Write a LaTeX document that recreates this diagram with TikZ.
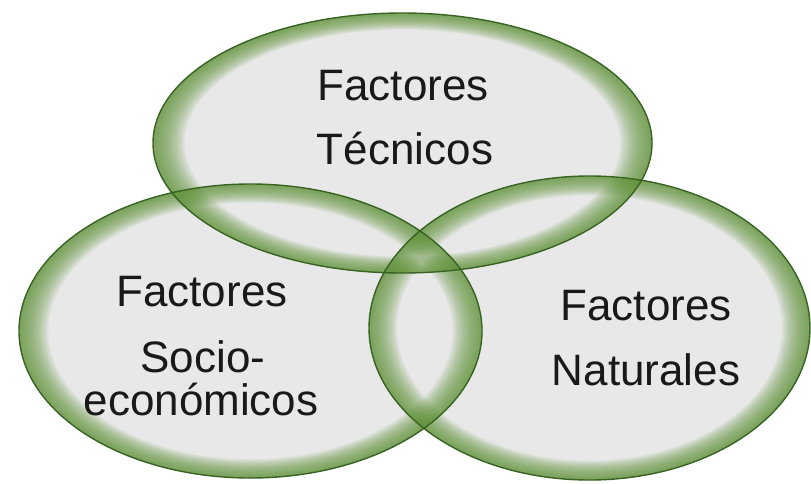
\documentclass[tikz,border=0pt]{standalone}
\usepackage{fontspec}
\setmainfont{Liberation Sans}
\definecolor{edgegreen}{RGB}{55,100,35}
\definecolor{glowgreen}{RGB}{100,150,60}
\definecolor{fillgray}{RGB}{232,232,232}
\definecolor{txt}{RGB}{25,25,25}
\tikzset{
  lbl/.style={anchor=base, inner sep=0pt, text=txt, font=\fontsize{44}{52}\selectfont},
  vedge/.style={draw=edgegreen, line width=1.4pt}
}
\begin{document}
\begin{tikzpicture}[x=1pt,y=-1pt]
\useasboundingbox[fill=white] (0,0) rectangle (811,483);
% gray fills
\foreach \cx/\cy/\rx/\ry in {402.5/143/249.5/130, 250.5/331/231.5/147, 589.5/328/220.5/152}{
  \fill[fillgray] (\cx,\cy) ellipse [x radius=\rx pt, y radius=\ry pt];
}
% inner green glow
\foreach \cx/\cy/\rx/\ry in {402.5/143/249.5/130, 250.5/331/231.5/147, 589.5/328/220.5/152}{
  \foreach \k in {1,...,22}{
    \pgfmathsetmacro\a{(1-0.0058*\k)*\rx}
    \pgfmathsetmacro\b{(1-0.0058*\k)*\ry}
    \fill[glowgreen, opacity=0.065, even odd rule]
      (\cx,\cy) ellipse [x radius=\rx pt, y radius=\ry pt]
      (\cx,\cy) ellipse [x radius=\a pt, y radius=\b pt];
  }
}
% outlines
\foreach \cx/\cy/\rx/\ry in {402.5/143/249.5/130, 250.5/331/231.5/147, 589.5/328/220.5/152}{
  \draw[vedge] (\cx,\cy) ellipse [x radius=\rx pt, y radius=\ry pt];
}
% labels
\node[lbl] (t1) at (403,100) {Factores};
\node[lbl] (t2) at (405,164) {Técnicos};
\node[lbl] (l1) at (202,306) {Factores};
\node[lbl] (l2) at (203,372) {Socio-};
\node[lbl] (l3) at (201,415) {económicos};
\node[lbl] (r1) at (646,320) {Factores};
\node[lbl] (r2) at (646,385) {Naturales};
\end{tikzpicture}
\end{document}
